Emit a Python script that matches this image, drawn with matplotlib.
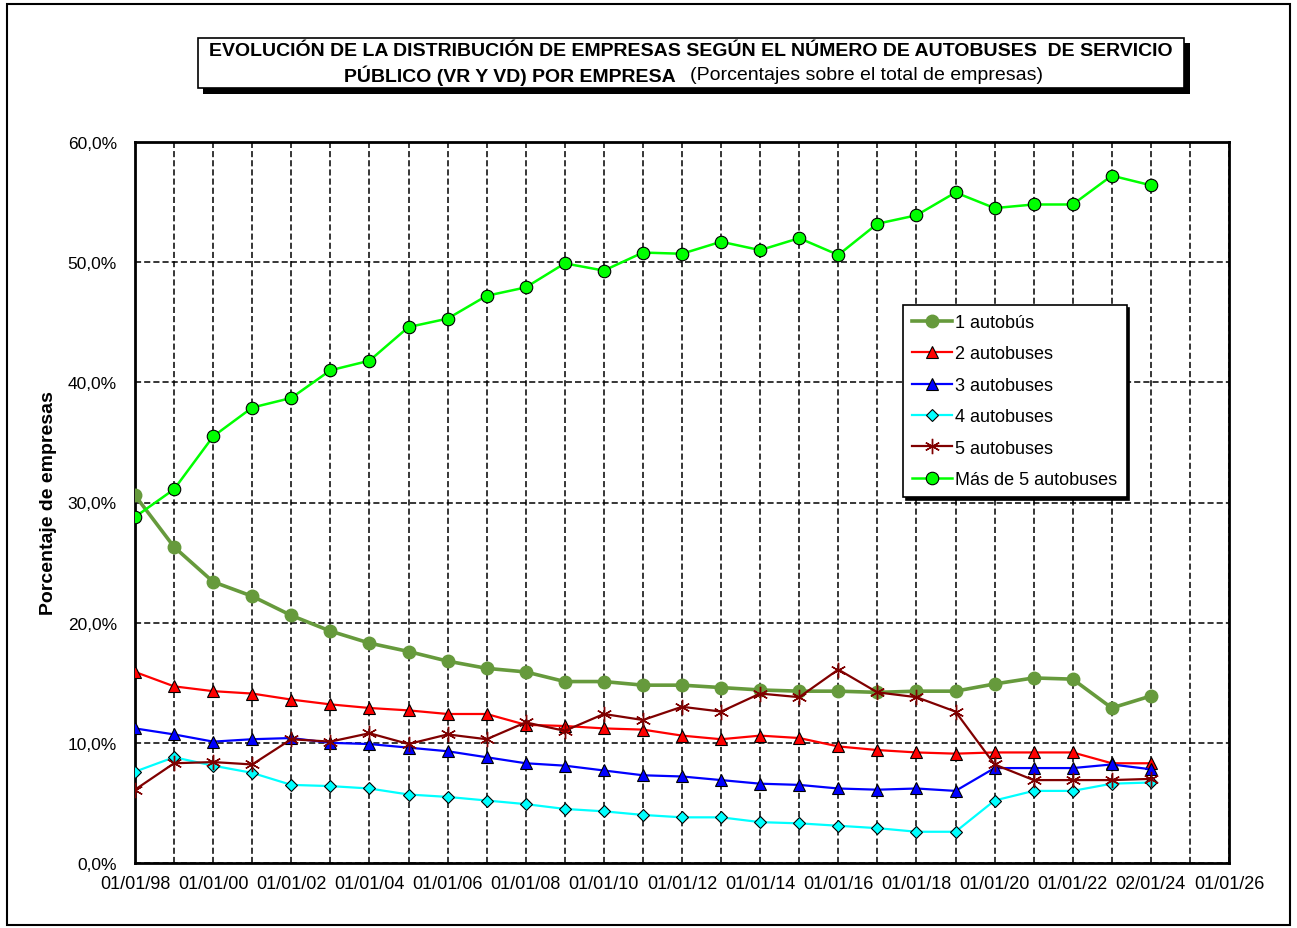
import matplotlib
matplotlib.use("Agg")
import matplotlib.pyplot as plt
from matplotlib.patches import Rectangle

plt.rcParams['font.family'] = ['Liberation Sans', 'DejaVu Sans']

# datos (porcentaje sobre el total de empresas)
years = list(range(1998, 2025))
uno = [30.6, 26.3, 23.4, 22.2, 20.6, 19.3, 18.3, 17.6, 16.8, 16.2, 15.9, 15.1, 15.1, 14.8,
       14.8, 14.6, 14.4, 14.3, 14.3, 14.2, 14.3, 14.3, 14.9, 15.4, 15.3, 12.9, 13.9]
dos = [15.9, 14.7, 14.3, 14.1, 13.6, 13.2, 12.9, 12.7, 12.4, 12.4, 11.5, 11.4, 11.2, 11.1,
       10.6, 10.3, 10.6, 10.4, 9.7, 9.4, 9.2, 9.1, 9.2, 9.2, 9.2, 8.3, 8.3]
tres = [11.2, 10.7, 10.1, 10.3, 10.4, 10.0, 9.9, 9.6, 9.3, 8.8, 8.3, 8.1, 7.7, 7.3,
        7.2, 6.9, 6.6, 6.5, 6.2, 6.1, 6.2, 6.0, 7.9, 7.9, 7.9, 8.2, 7.8]
cuatro = [7.6, 8.8, 8.1, 7.5, 6.5, 6.4, 6.2, 5.7, 5.5, 5.2, 4.9, 4.5, 4.3, 4.0,
          3.8, 3.8, 3.4, 3.3, 3.1, 2.9, 2.6, 2.6, 5.2, 6.0, 6.0, 6.6, 6.7]
cinco = [6.1, 8.3, 8.4, 8.2, 10.3, 10.1, 10.8, 9.9, 10.7, 10.3, 11.7, 11.0, 12.4, 11.9,
         13.0, 12.6, 14.1, 13.8, 16.1, 14.2, 13.8, 12.6, 8.2, 6.9, 6.9, 6.9, 7.0]
mas5 = [28.8, 31.1, 35.5, 37.9, 38.7, 41.0, 41.8, 44.6, 45.3, 47.2, 47.9, 49.9, 49.3, 50.8,
        50.7, 51.7, 51.0, 52.0, 50.6, 53.2, 53.9, 55.8, 54.5, 54.8, 54.8, 57.2, 56.4]

xtick_pos = list(range(1998, 2027, 2))
xtick_labels = ['01/01/98', '01/01/00', '01/01/02', '01/01/04', '01/01/06', '01/01/08',
                '01/01/10', '01/01/12', '01/01/14', '01/01/16', '01/01/18', '01/01/20',
                '01/01/22', '02/01/24', '01/01/26']
ytick_pos = [0, 10, 20, 30, 40, 50, 60]
ytick_labels = ['0,0%', '10,0%', '20,0%', '30,0%', '40,0%', '50,0%', '60,0%']

W, H = 1297, 929
fig = plt.figure(figsize=(W / 100, H / 100), dpi=100)

def fx(x):
    return x / W

def fy(y):
    return 1 - y / H

# marco exterior
fig.patches.append(Rectangle((fx(7), fy(926)), fx(1290) - fx(7), fy(5) - fy(926),
                             transform=fig.transFigure, fill=False, edgecolor='black', lw=1.5))

# caja del titulo con sombra
fig.patches.append(Rectangle((fx(203), fy(95)), fx(1190) - fx(203), fy(44) - fy(95),
                             transform=fig.transFigure, facecolor='black', edgecolor='none'))
fig.patches.append(Rectangle((fx(198), fy(89)), fx(1184) - fx(198), fy(39) - fy(89),
                             transform=fig.transFigure, facecolor='white', edgecolor='black', lw=1.2))
fig.text(fx(691), fy(52), 'EVOLUCIÓN DE LA DISTRIBUCIÓN DE EMPRESAS SEGÚN EL NÚMERO DE AUTOBUSES  DE SERVICIO',
         ha='center', va='center', fontsize=14, fontweight='bold')
fig.text(fx(676), fy(76), 'PÚBLICO (VR Y VD) POR EMPRESA', ha='right', va='center',
         fontsize=14, fontweight='bold')
fig.text(fx(690), fy(76), '(Porcentajes sobre el total de empresas)', ha='left', va='center',
         fontsize=14)

ax = fig.add_axes([fx(135), fy(864), fx(1229) - fx(135), fy(143) - fy(864)])

ax.plot(years, uno, color='#669a3c', lw=2.6, marker='o', ms=9, mfc='#669a3c', mec='#669a3c',
        label='1 autobús', zorder=3)
ax.plot(years, dos, color='#ff0000', lw=1.6, marker='^', ms=8, mfc='#ff0000', mec='black',
        mew=0.8, label='2 autobuses', zorder=4)
ax.plot(years, tres, color='#0000ff', lw=1.6, marker='^', ms=8, mfc='#0000ff', mec='black',
        mew=0.8, label='3 autobuses', zorder=4)
ax.plot(years, cuatro, color='#00ffff', lw=1.6, marker='D', ms=6, mfc='#00ffff', mec='black',
        mew=0.8, label='4 autobuses', zorder=4)
ax.plot(years, cinco, color='#800000', lw=1.6, marker=(6, 2, 0), ms=11, mec='#800000',
        mew=1.0, label='5 autobuses', zorder=4)
ax.plot(years, mas5, color='#00ff00', lw=1.8, marker='o', ms=9, mfc='#00ff00', mec='black',
        mew=0.8, label='Más de 5 autobuses', zorder=4)

ax.set_xlim(1998, 2026)
ax.set_ylim(0, 60)
ax.set_xticks(xtick_pos)
ax.set_xticklabels(xtick_labels, fontsize=13)
ax.set_xticks(range(1999, 2026, 2), minor=True)
ax.set_yticks(ytick_pos)
ax.set_yticklabels(ytick_labels, fontsize=12.5)
ax.tick_params(which='both', length=0)
ax.tick_params(axis='x', pad=9)
ax.tick_params(axis='y', pad=13)
ax.grid(True, which='both', axis='x', color='black', lw=1.1, ls=(0, (4, 2)))
ax.grid(True, which='major', axis='y', color='black', lw=1.1, ls=(0, (4, 2)))
ax.set_axisbelow(True)
for s in ax.spines.values():
    s.set_linewidth(2)
ax.set_ylabel('Porcentaje de empresas', fontsize=14, fontweight='bold', labelpad=8)

leg = ax.legend(loc='upper left', bbox_to_anchor=(fx(903), fy(306)), bbox_transform=fig.transFigure,
                borderaxespad=0, fontsize=13, frameon=True, fancybox=False, edgecolor='black',
                framealpha=1, labelspacing=0.8, handlelength=2.2, handletextpad=0.2,
                borderpad=0.5, shadow={'color': 'black', 'alpha': 1})
leg.get_frame().set_linewidth(1.2)

fig.savefig('out.png', dpi=100)
